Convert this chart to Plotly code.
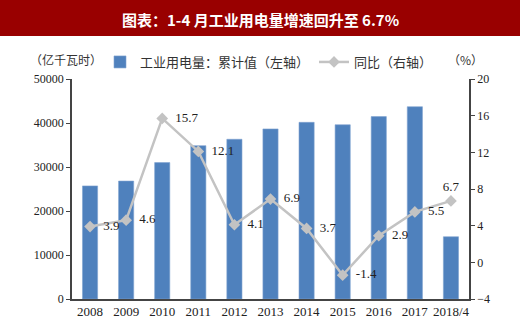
import plotly.graph_objects as go

categories = ["2008", "2009", "2010", "2011", "2012", "2013", "2014", "2015", "2016", "2017", "2018/4"]
power_cumulative = [25700, 26800, 31000, 34850, 36300, 38650, 40150, 39600, 41450, 43700, 14150]
yoy_growth = [3.9, 4.6, 15.7, 12.1, 4.1, 6.9, 3.7, -1.4, 2.9, 5.5, 6.7]
label_pos = ["middle right"] * 10 + ["top center"]

serif = "Liberation Serif, Times New Roman, serif"
cjk = "Noto Sans CJK SC, sans-serif"

W, H = 520, 325
ML, MR, MT, MB = 72, 51, 79, 26
PW, PH = W - ML - MR, H - MT - MB


def px_x(x):
    return (x - ML) / PW


def px_y(y):
    return (H - MB - y) / PH


labels = [("\u00a0\u00a0" if p == "middle right" else "") + f"{v:g}" for v, p in zip(yoy_growth, label_pos)]

fig = go.Figure()
fig.add_trace(go.Bar(
    x=categories, y=power_cumulative, name="工业用电量：累计值（左轴）",
    marker=dict(color="#4f81bd", line=dict(color="#7fa3d0", width=0.6)),
    width=0.42, yaxis="y",
))
fig.add_trace(go.Scatter(
    x=categories, y=yoy_growth, name="同比（右轴）", yaxis="y2",
    mode="lines+markers+text",
    line=dict(color="#c3c3c3", width=2.5),
    marker=dict(symbol="diamond", size=9, color="#c3c3c3"),
    text=labels, textposition=label_pos,
    textfont=dict(family=serif, size=13, color="#222222"),
    cliponaxis=False,
))

fig.update_layout(
    width=W, height=H,
    margin=dict(l=ML, r=MR, t=MT, b=MB),
    paper_bgcolor="white", plot_bgcolor="white",
    showlegend=True,
    legend=dict(orientation="h", x=px_x(100), xanchor="left", y=px_y(62), yanchor="middle",
                font=dict(family=cjk, size=13, color="#333333"),
                tracegroupgap=0, bgcolor="rgba(0,0,0,0)"),
    xaxis=dict(type="category", range=[-0.5, 10.5], autorange=False, showline=True,
               linecolor="#444444", linewidth=1.5, automargin=False,
               ticks="", tickfont=dict(family=serif, size=13, color="#222222"),
               showgrid=False),
    yaxis=dict(range=[0, 50000], dtick=10000, tickformat="d", showline=True,
               linecolor="#444444", linewidth=1.5, automargin=False,
               ticks="outside", ticklen=4, tickcolor="#444444", showgrid=False, zeroline=False,
               tickfont=dict(family=serif, size=12, color="#222222")),
    yaxis2=dict(range=[-4, 20], dtick=4, overlaying="y", side="right", showline=True,
                linecolor="#444444", linewidth=1.5, ticks="outside", ticklen=4, automargin=False,
                tickcolor="#444444", showgrid=False, zeroline=False,
                tickfont=dict(family=serif, size=12, color="#222222")),
    shapes=[dict(type="rect", xref="paper", yref="paper", x0=px_x(-5), x1=px_x(W + 5),
                 y0=px_y(36), y1=px_y(-5), fillcolor="#990000", line=dict(width=0),
                 layer="above")],
    annotations=[
        dict(text="<b>图表：1-4 月工业用电量增速回升至 6.7%</b>", xref="paper", yref="paper",
             x=px_x(260), y=px_y(19), xanchor="center", yanchor="middle",
             showarrow=False, font=dict(family=cjk, size=15, color="white")),
        dict(text="（亿千瓦时）", xref="paper", yref="paper", x=px_x(28),
             y=px_y(59), xanchor="left", yanchor="middle", showarrow=False,
             font=dict(family=cjk, size=12, color="#333333")),
        dict(text="（%）", xref="paper", yref="paper", x=px_x(446),
             y=px_y(59), xanchor="left", yanchor="middle", showarrow=False,
             font=dict(family=cjk, size=12, color="#333333")),
    ],
)

fig.write_html("out.html")
